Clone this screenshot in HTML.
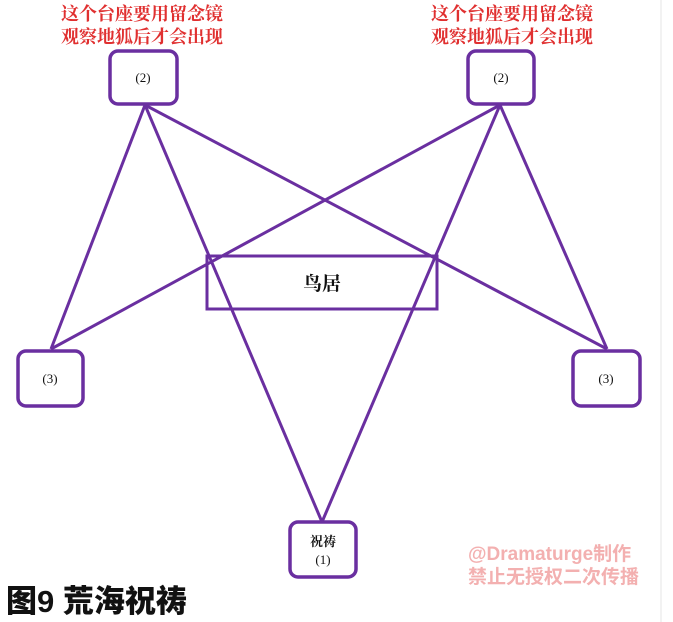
<!DOCTYPE html>
<html><head><meta charset="utf-8"><style>
html,body{margin:0;padding:0;background:#fff;width:673px;height:622px;overflow:hidden;}
body{position:relative;}
svg{position:absolute;left:0;top:0;display:block;}
</style></head><body>
<svg width="673" height="622" viewBox="0 0 673 622" xmlns="http://www.w3.org/2000/svg" overflow="hidden">
<line x1="661" y1="0" x2="661" y2="622" stroke="#e6e6e6" stroke-width="1"/>
<g stroke="#6a2fa0" stroke-width="3" fill="none">
<line x1="145" y1="105" x2="51" y2="349"/>
<line x1="145" y1="105" x2="322" y2="522"/>
<line x1="145" y1="105" x2="607" y2="349"/>
<line x1="500" y1="105" x2="607" y2="349"/>
<line x1="500" y1="105" x2="322" y2="522"/>
<line x1="500" y1="105" x2="51" y2="349"/>
<rect x="207" y="256" width="230" height="53"/>
</g>
<g stroke="#6a2fa0" stroke-width="3.5" fill="#fff">
<rect x="110" y="51" width="67" height="53" rx="8"/>
<rect x="468" y="51" width="66" height="53" rx="8"/>
<rect x="18" y="351" width="65" height="55" rx="8"/>
<rect x="573" y="351" width="67" height="55" rx="8"/>
<rect x="290" y="522" width="66" height="55" rx="8"/>
</g>
<g font-family="Liberation Serif, Noto Serif CJK SC, serif" font-size="13" text-anchor="middle" fill="#111">
<text x="143" y="82">(2)</text>
<text x="501" y="82">(2)</text>
<text x="50" y="383">(3)</text>
<text x="606" y="383">(3)</text>
<text x="323" y="546" font-weight="bold">祝祷</text>
<text x="323" y="564">(1)</text>
<text x="322" y="290" font-size="19" font-weight="bold">鸟居</text>
</g>
<g font-family="Liberation Serif, Noto Serif CJK SC, serif" font-size="18" font-weight="bold" text-anchor="middle" fill="#e03030">
<text x="142" y="20">这个台座要用留念镜</text>
<text x="142" y="43">观察地狐后才会出现</text>
<text x="512" y="20">这个台座要用留念镜</text>
<text x="512" y="43">观察地狐后才会出现</text>
</g>
<g font-family="Liberation Sans, Noto Sans CJK SC, sans-serif" font-size="19" font-weight="bold" fill="#f3b0b0">
<text x="468" y="560">@Dramaturge制作</text>
<text x="468" y="583">禁止无授权二次传播</text>
</g>
<text x="6" y="612" font-family="Liberation Sans, Noto Sans CJK SC, sans-serif" font-size="31" font-weight="900" fill="#111" stroke="#fff" stroke-width="4" paint-order="stroke">图9 荒海祝祷</text>
</svg>
</body></html>
